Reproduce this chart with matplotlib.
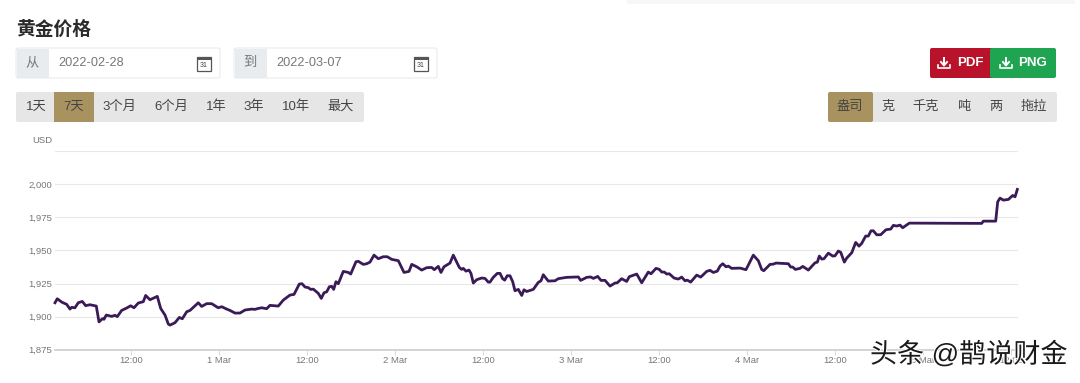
import matplotlib
matplotlib.use('Agg')
import matplotlib.pyplot as plt
import matplotlib.patheffects as pe
from matplotlib.patches import Rectangle, FancyBboxPatch

plt.rcParams['font.family'] = ['Liberation Sans', 'Noto Sans CJK SC', 'DejaVu Sans']

# hours since 2022-02-28 00:00
hours = [1.64, 1.95, 2.55, 3.23, 3.68, 3.91, 4.36, 4.81, 5.36, 5.82, 6.41, 7.27, 7.64, 8.09, 8.32, 8.63, 9.37, 9.82,
         10.13, 10.73, 11.41, 11.96, 12.41, 13.0, 13.68, 14.0, 14.59, 15.59, 16.05, 16.64, 17.09, 17.32, 18.0, 18.59,
         19.0, 19.6, 20.05, 21.18, 21.64, 22.32, 23.0, 23.9, 24.37, 25.05, 25.5, 26.18, 26.86, 27.55, 28.46, 28.91,
         29.36, 29.82, 30.5, 30.95, 32.09, 32.77, 33.68, 34.23, 34.95, 35.32, 35.73, 36.18, 36.5, 36.86, 37.54, 37.95,
         38.32, 38.69, 39.05, 39.37, 39.64, 39.95, 40.27, 40.95, 41.64, 41.96, 42.68, 43.0, 43.68, 44.14, 44.59, 45.14,
         45.72, 46.41, 46.95, 47.55, 48.45, 49.23, 49.91, 50.28, 50.96, 51.64, 52.32, 53.0, 53.36, 53.9, 54.27, 54.68,
         55.5, 55.95, 56.77, 57.09, 57.31, 57.68, 58.09, 58.36, 58.68, 59.14, 59.82, 60.27, 60.72, 60.95, 61.4, 61.95,
         62.32, 62.68, 62.96, 63.3, 63.68, 64.05, 64.36, 64.82, 65.28, 65.59, 65.96, 66.86, 67.54, 67.91, 68.22, 68.9,
         69.82, 70.27, 71.41, 73.0, 73.32, 74.14, 74.68, 75.05, 75.64, 76.09, 76.64, 77.32, 78.0, 78.31, 78.91, 79.59,
         79.95, 80.96, 81.64, 82.54, 82.91, 83.59, 84.04, 84.37, 84.72, 85.05, 85.4, 86.05, 86.63, 87.09, 87.55, 87.86,
         88.32, 89.14, 89.69, 90.5, 90.95, 91.41, 91.95, 92.32, 92.69, 93.14, 93.45, 93.91, 95.05, 95.86, 96.86, 97.54,
         98.0, 98.28, 99.14, 99.59, 99.95, 101.63, 101.96, 102.23, 102.59, 103.23, 103.6, 104.36, 105.27, 105.59,
         105.86, 106.19, 106.5, 107.09, 107.69, 108.0, 108.45, 108.78, 109.27, 109.6, 110.28, 110.82, 111.27, 111.64,
         112.18, 112.54, 112.91, 113.22, 113.69, 114.23, 114.95, 115.6, 115.95, 116.41, 116.86, 117.23, 118.13, 127.54,
         128.0, 128.23, 129.91, 130.18, 130.5, 130.95, 131.64, 132.23, 132.55, 132.86]

price = [1910.5, 1913.5, 1911, 1909.3, 1905.7, 1907, 1906.7, 1910.5, 1911.5, 1908.3, 1909, 1908, 1896, 1898.4, 1898,
         1901.2, 1900.2, 1901, 1900, 1904.7, 1906.5, 1908.2, 1906.7, 1910.3, 1911.3, 1916, 1912.8, 1915.3, 1906.2,
         1901.2, 1894.4, 1893.6, 1895.4, 1899.4, 1898.4, 1903.7, 1904.7, 1910.5, 1907.7, 1909.8, 1909.8, 1906.7, 1907.5,
         1905.7, 1904.7, 1902.7, 1902.7, 1905, 1905.7, 1905.5, 1906.2, 1906.7, 1906, 1908.5, 1908, 1912.5, 1916.3,
         1916.8, 1924.6, 1924.9, 1922.4, 1921.9, 1920.6, 1920.8, 1917.6, 1913.8, 1918, 1918.8, 1922.6, 1922.9, 1920.6,
         1926.4, 1924.9, 1934.2, 1933.4, 1932.2, 1941.5, 1941.8, 1939.5, 1940, 1941.2, 1946.5, 1943.8, 1945.3, 1945.3,
         1943.3, 1942.3, 1933.4, 1934.2, 1939.5, 1937.7, 1935.2, 1937, 1937.2, 1935.5, 1938, 1933.4, 1937.7, 1940.5,
         1946.5, 1937.2, 1935.7, 1936.5, 1934.4, 1935.2, 1932.7, 1925.4, 1927.9, 1929.2, 1928.9, 1926.1, 1926.1, 1929.7,
         1932.7, 1932.7, 1928.7, 1927.6, 1930.9, 1930.9, 1926.4, 1919.6, 1920.6, 1916, 1920.3, 1919, 1920.6, 1925.9,
         1927.1, 1931.7, 1926.9, 1927.1, 1928.7, 1929.7, 1930, 1927.4, 1929.7, 1930, 1928.9, 1930.4, 1927.4, 1927.4,
         1923.1, 1925.4, 1925.6, 1928.7, 1926.6, 1930.2, 1932.2, 1925.6, 1933.7, 1932.4, 1936.5, 1935.7, 1933.7, 1933.7,
         1932.2, 1932.4, 1929.2, 1928.4, 1929.9, 1927.1, 1927.6, 1926.1, 1931.4, 1929.9, 1934.2, 1935, 1933.4, 1934.4,
         1938.2, 1940, 1937.7, 1938.2, 1936.5, 1936.7, 1935.5, 1946.5, 1942.3, 1935.7, 1934.7, 1939.5, 1939.7, 1940.5,
         1940, 1937.5, 1937.5, 1935.7, 1936.5, 1938, 1935.2, 1940.7, 1941.2, 1945.8, 1943.5, 1943.8, 1948, 1945.8, 1946,
         1949.6, 1948.6, 1941.2, 1944.3, 1948.3, 1956.1, 1953.3, 1955.4, 1960.9, 1960.9, 1964.9, 1964.9, 1961.9, 1961.9,
         1965.7, 1966.2, 1969, 1968.5, 1969.2, 1967.2, 1970.7, 1970.5, 1970.5, 1972.2, 1972.2, 1986.8, 1989.6, 1988.1,
         1988.6, 1991.6, 1990.6, 1996.2]

x_ticks = [12, 24, 36, 48, 60, 72, 84, 96, 108, 120, 132]
x_labels = ['12:00', '1 Mar', '12:00', '2 Mar', '12:00', '3 Mar', '12:00', '4 Mar', '12:00', '5 Mar', '12:00']
y_ticks = [1875, 1900, 1925, 1950, 1975, 2000, 2025]
y_labels = ['1,875', '1,900', '1,925', '1,950', '1,975', '2,000', '']

range_labels = ['1天', '7天', '3个月', '6个月', '1年', '3年', '10年', '最大']
range_centers = [36, 74, 119, 171, 216, 254, 296, 341]
unit_labels = ['盎司', '克', '千克', '吨', '两', '拖拉']
unit_centers = [850, 888, 926, 964, 996, 1034]

W, H = 1080, 383
fig = plt.figure(figsize=(W/100, H/100), dpi=100, facecolor='white')

# page furniture is laid out on an overlay in pixel coords
ui = fig.add_axes([0, 0, 1, 1], zorder=1)
ui.set_xlim(0, W)
ui.set_ylim(H, 0)
ui.axis('off')

# chart
left, right, top, bottom = 55, 1018, 151.3, 349.7
ax = fig.add_axes([left/W, 1-bottom/H, (right-left)/W, (bottom-top)/H], zorder=2)
ax.patch.set_alpha(0)
ax.plot(hours, price, color='#3b1a58', lw=2.0, solid_joinstyle='round', clip_on=False)
ax.set_xlim(1.64, 132.95)
ax.set_ylim(1875, 2025)
ax.set_xticks(x_ticks)
ax.set_xticklabels(x_labels)
ax.set_yticks(y_ticks)
ax.set_yticklabels(y_labels)
ax.grid(axis='y', color='#e8e8e8', lw=0.8)
ax.set_axisbelow(True)
for s in ['top', 'left', 'right']:
    ax.spines[s].set_visible(False)
ax.spines['bottom'].set_color('#cccccc')
ax.spines['bottom'].set_linewidth(1.2)
ax.tick_params(axis='x', length=3.5, width=0.6, color='#d5d5d5', labelcolor='#777777', labelsize=6.8, pad=1.2)
ax.tick_params(axis='y', length=0, labelcolor='#777777', labelsize=6.8, pad=2)

ui.text(32, 140.5, 'USD', fontsize=6.8, color='#777777', va='center')
ui.text(16, 29.5, '黄金价格', fontsize=13.5, fontweight='bold', color='#2b2b2b', va='center')
ui.add_patch(Rectangle((627, 0), 448, 4, fc='#f7f7f7', ec='none'))


def date_box(x0, x1, label, value):
    ui.add_patch(FancyBboxPatch((x0, 48), x1-x0, 30, boxstyle='round,pad=0,rounding_size=2', fc='white', ec='#dfe3e7', lw=0.6))
    ui.add_patch(Rectangle((x0+0.5, 48.5), 32, 29, fc='#e9ecef', ec='none'))
    ui.text(x0+16, 63, label, fontsize=9.5, color='#777777', ha='center', va='center')
    ui.text(x0+42, 62.5, value, fontsize=9.2, color='#777777', va='center')
    # calendar icon
    ix = x1-23
    ui.add_patch(Rectangle((ix, 57), 14, 14, fc='white', ec='#555555', lw=0.9))
    ui.add_patch(Rectangle((ix, 57), 14, 3, fc='#555555', ec='none'))
    ui.text(ix+7, 65.5, '31', fontsize=5, color='#444444', ha='center', va='center')


date_box(16, 220, '从', '2022-02-28')
date_box(234, 437, '到', '2022-03-07')

# button groups
ui.add_patch(FancyBboxPatch((16, 92), 348, 30, boxstyle='round,pad=0,rounding_size=2', fc='#e6e6e6', ec='none'))
ui.add_patch(Rectangle((54, 92), 40, 30, fc='#a8925f', ec='none'))
for lab, cx in zip(range_labels, range_centers):
    ui.text(cx, 107, lab, fontsize=9.5, color='#444444', ha='center', va='center')

ui.add_patch(FancyBboxPatch((828, 92), 229, 30, boxstyle='round,pad=0,rounding_size=2', fc='#e6e6e6', ec='none'))
ui.add_patch(FancyBboxPatch((828, 92), 45, 30, boxstyle='round,pad=0,rounding_size=2', fc='#a8925f', ec='none'))
for lab, cx in zip(unit_labels, unit_centers):
    ui.text(cx, 107, lab, fontsize=9.5, color='#444444', ha='center', va='center')

# export buttons
ui.add_patch(FancyBboxPatch((930, 48), 64, 30, boxstyle='round,pad=0,rounding_size=2', fc='#b9122b', ec='none'))
ui.add_patch(FancyBboxPatch((990, 48), 66, 30, boxstyle='round,pad=0,rounding_size=2', fc='#1fa552', ec='none'))
ui.add_patch(Rectangle((992, 48), 4, 30, fc='#1fa552', ec='none'))
for ix, lab, cx in [(944, 'PDF', 970), (1006, 'PNG', 1033)]:
    ui.plot([ix, ix], [58, 65], color='white', lw=1.4)
    ui.plot([ix-3, ix, ix+3], [62, 65.5, 62], color='white', lw=1.4)
    ui.plot([ix-6, ix-6, ix+6, ix+6], [65, 68, 68, 65], color='white', lw=1.2)
    ui.text(cx, 62.5, lab, fontsize=9.5, fontweight='bold', color='white', ha='center', va='center')

# watermark sits over the chart
wm = fig.text(870/W, 1-355/H, '头条 @鹊说财金', fontsize=19.5, color='#1a1a1a', va='center', zorder=5)
wm.set_path_effects([pe.withStroke(linewidth=1.5, foreground='white')])

fig.savefig('out.png', dpi=100)
